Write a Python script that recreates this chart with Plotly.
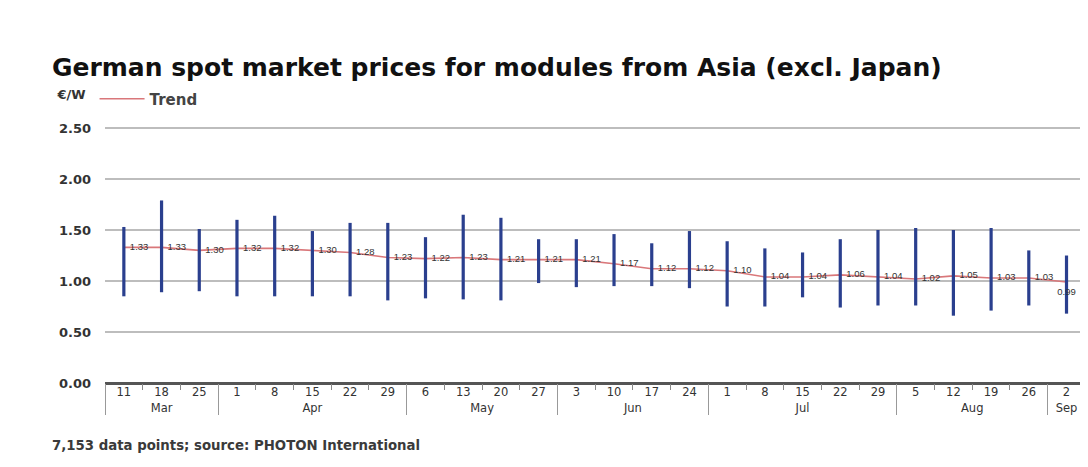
import plotly.graph_objects as go

months = ["Mar", "Mar", "Mar", "Apr", "Apr", "Apr", "Apr", "Apr", "May", "May", "May", "May",
          "Jun", "Jun", "Jun", "Jun", "Jul", "Jul", "Jul", "Jul", "Jul", "Aug", "Aug", "Aug", "Aug", "Sep"]
days = ["11", "18", "25", "1", "8", "15", "22", "29", "6", "13", "20", "27",
        "3", "10", "17", "24", "1", "8", "15", "22", "29", "5", "12", "19", "26", "2"]
avg = [1.33, 1.33, 1.30, 1.32, 1.32, 1.30, 1.28, 1.23, 1.22, 1.23, 1.21, 1.21,
       1.21, 1.17, 1.12, 1.12, 1.10, 1.04, 1.04, 1.06, 1.04, 1.02, 1.05, 1.03, 1.03, 0.99]
high = [1.53, 1.79, 1.51, 1.60, 1.64, 1.49, 1.57, 1.57, 1.43, 1.65, 1.62, 1.41,
        1.41, 1.46, 1.37, 1.49, 1.39, 1.32, 1.28, 1.41, 1.50, 1.52, 1.50, 1.52, 1.30, 1.25]
low = [0.85, 0.89, 0.90, 0.85, 0.85, 0.85, 0.85, 0.81, 0.83, 0.82, 0.81, 0.98,
       0.94, 0.95, 0.95, 0.93, 0.75, 0.75, 0.84, 0.74, 0.76, 0.76, 0.66, 0.71, 0.76, 0.68]
labels = ["1.33", "1.33", "1.30", "1.32", "1.32", "1.30", "1.28", "1.23", "1.22", "1.23", "1.21", "1.21",
          "1.21", "1.17", "1.12", "1.12", "1.10", "1.04", "1.04", "1.06", "1.04", "1.02", "1.05", "1.03", "1.03", "0.99"]
y_ticks = [0, 0.5, 1.0, 1.5, 2.0, 2.5]
y_ticktext = ["0.00", "0.50", "1.00", "1.50", "2.00", "2.50"]

x = [months, days]
err_plus = [h - a for h, a in zip(high, avg)]
err_minus = [a - l for a, l in zip(avg, low)]
label_pos = ["middle right"] * (len(labels) - 1) + ["bottom center"]

W, H = 1080, 459  # page body adds an 8px offset

fig = go.Figure()

fig.add_trace(go.Scatter(
    x=x, y=avg, mode="lines", name="Trend",
    line=dict(color="#d9777a", width=1.6),
    showlegend=True, hoverinfo="skip",
))

fig.add_trace(go.Scatter(
    x=x, y=avg, mode="markers", showlegend=False,
    marker=dict(size=1, color="rgba(0,0,0,0)"),
    error_y=dict(type="data", symmetric=False, array=err_plus, arrayminus=err_minus,
                 color="#2a3f8e", thickness=3.2, width=0),
))

fig.add_trace(go.Scatter(
    x=x, y=avg, mode="markers+text", text=labels, textposition=label_pos,
    marker=dict(size=8, color="rgba(0,0,0,0)"),
    textfont=dict(family="Liberation Sans", size=9.5, color="#333333"),
    showlegend=False, hoverinfo="skip",
))

fig.update_layout(
    template="none",
    width=W, height=H,
    paper_bgcolor="white", plot_bgcolor="white",
    margin=dict(l=97, r=0, t=118, b=83.5, autoexpand=False),
    title=dict(
        text="<b>German spot market prices for modules from Asia (excl. Japan)</b>",
        font=dict(family="DejaVu Sans", size=25, color="#111111"),
        x=0.0407, xref="container", xanchor="left",
        y=0.8715, yref="container", yanchor="middle",
    ),
    legend=dict(
        orientation="h", x=0.0439, xref="container", xanchor="left",
        y=0.8017, yref="container", yanchor="middle",
        itemwidth=45,
        title=dict(text="€/W", side="left", font=dict(family="DejaVu Sans", size=13, color="#333333")),
        font=dict(family="DejaVu Sans", size=15, color="#444444", weight="bold"),
        bgcolor="rgba(0,0,0,0)",
    ),
    xaxis=dict(
        type="multicategory",
        range=[-0.5, 25.57],
        showgrid=False,
        ticks="outside", ticklen=6, tickcolor="#888888", tickwidth=1,
        showline=False,
        dividercolor="#999999", dividerwidth=1,
        tickfont=dict(family="DejaVu Sans", size=11.5, color="#333333"),
        zeroline=False,
        automargin=False,
    ),
    yaxis=dict(
        range=[0, 2.52],
        tickvals=y_ticks, ticktext=y_ticktext,
        showgrid=True, gridcolor="#bdbdbd", gridwidth=1.5,
        zeroline=True, zerolinecolor="#555555", zerolinewidth=3,
        ticks="", ticklabelstandoff=13,
        tickfont=dict(family="DejaVu Sans", size=13, color="#333333", weight="bold"),
        automargin=False,
    ),
    annotations=[dict(
        text="7,153 data points; source: PHOTON International",
        xref="paper", yref="paper", x=-0.056, y=-0.243,
        xanchor="left", yanchor="middle", showarrow=False,
        font=dict(family="DejaVu Sans", size=13.3, color="#3a3a3a", weight="bold"),
    )],
)

fig.write_html("out.html")
